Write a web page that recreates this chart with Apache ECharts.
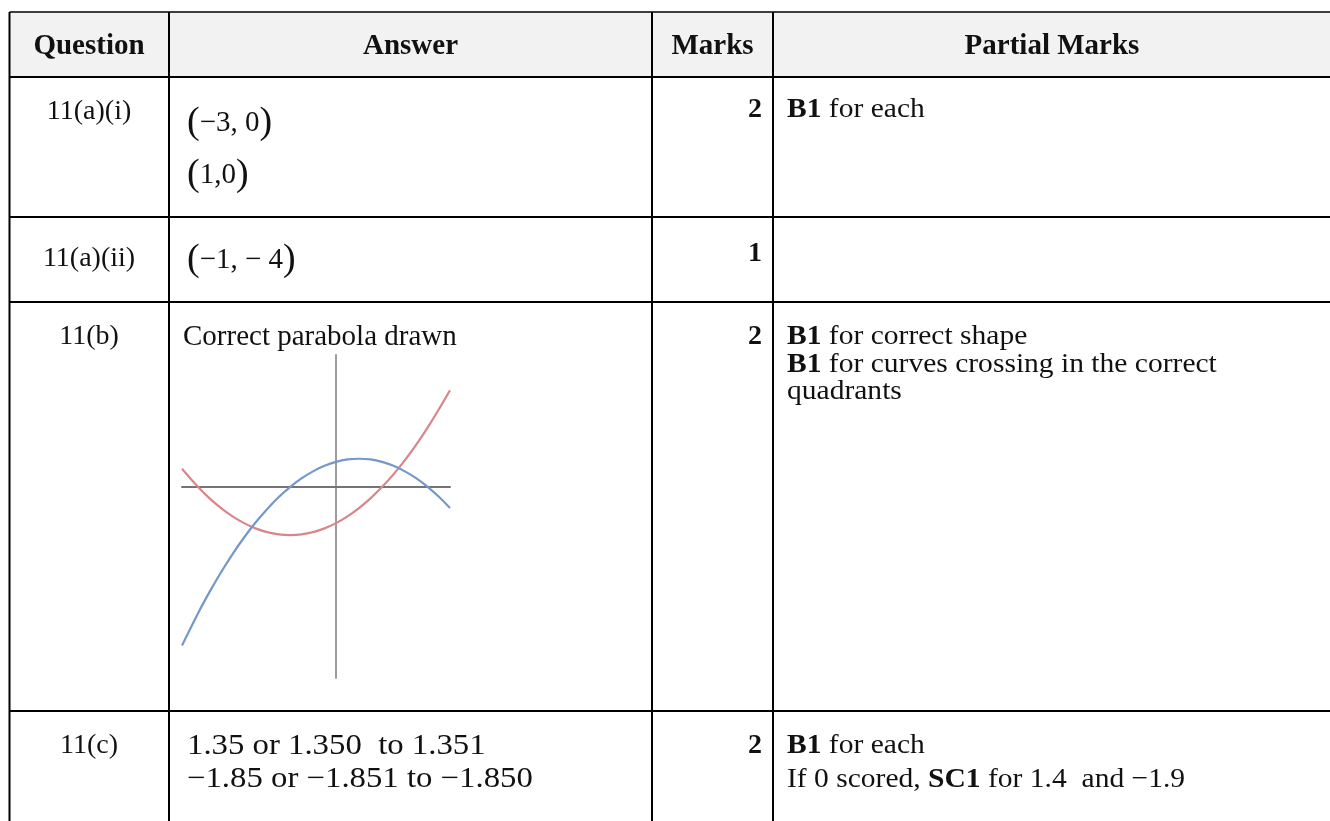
<!DOCTYPE html>
<html>
<head>
<meta charset="utf-8">
<script src="https://cdn.jsdelivr.net/npm/echarts@6/dist/echarts.min.js"></script>
<style>
html,body{margin:0;padding:0;background:#fff;}
#main{width:1330px;height:821px;}
</style>
</head>
<body>
<div id="main"></div>
<script>
// ---- data ----
var headers = ['Question', 'Answer', 'Marks', 'Partial Marks'];
var questions = ['11(a)(i)', '11(a)(ii)', '11(b)', '11(c)'];
var marks = ['2', '1', '2', '2'];
var answers11ai = ['−3, 0', '1,0'];
var answer11aii = '−1, − 4';
var answer11b = 'Correct parabola drawn';
var answers11c = ['1.35 or 1.350  to 1.351', '−1.85 or −1.851 to −1.850'];
var partial11ai = [['B1', ' for each']];
var partial11b = [['B1', ' for correct shape'], ['B1', ' for curves crossing in the correct'], ['', 'quadrants']];
var partial11c = [['B1', ' for each'], ['', 'If 0 scored, ', 'SC1', ' for 1.4  and −1.9']];

// sketch curves (x values and y values)
var curveX = [-3.35, -3, -2.75, -2.5, -2.25, -2, -1.75, -1.5, -1.25, -1, -0.75, -0.5, -0.25, 0, 0.25, 0.5, 0.75, 1, 1.25, 1.5, 1.75, 2, 2.25, 2.48];
var redY  = [1.52, 0, -0.94, -1.75, -2.44, -3, -3.44, -3.75, -3.94, -4, -3.94, -3.75, -3.44, -3, -2.44, -1.75, -0.94, 0, 1.06, 2.25, 3.56, 5, 6.56, 8.07];
var blueY = [-13.2, -10.5, -8.73, -7.09, -5.58, -4.2, -2.95, -1.84, -0.85, 0, 0.72, 1.31, 1.77, 2.1, 2.3, 2.36, 2.3, 2.1, 1.77, 1.31, 0.72, 0, -0.85, -1.75];

// ---- layout ----
var FONT = '"Liberation Serif", "Times New Roman", serif';
var colX = [9.5, 169, 652, 773, 1330];
var rowY = [12, 77, 217, 302, 711, 821];
var qCenter = 89, ansLeft = 187, marksRight = 762, partLeft = 787;

function txt(x, y, text, opt) {
  opt = opt || {};
  return {
    type: 'text', x: x, y: y, z: 10,
    scaleX: opt.sx || 1,
    style: {
      text: text,
      fontFamily: FONT,
      fontSize: opt.size || 28,
      fontWeight: opt.bold ? 'bold' : 'normal',
      fill: '#111',
      align: opt.align || 'left',
      verticalAlign: 'middle',
      rich: opt.rich
    }
  };
}
var richB = {
  b: { fontFamily: FONT, fontSize: 28, fontWeight: 'bold', fill: '#111', verticalAlign: 'middle' },
  n: { fontFamily: FONT, fontSize: 28, fill: '#111', verticalAlign: 'middle' }
};
function partLine(x, y, parts) {
  var s = '';
  for (var i = 0; i < parts.length; i++) {
    if (!parts[i]) continue;
    var bold = (parts.length === 2 && i === 0) || (parts.length === 4 && i === 2);
    s += '{' + (bold ? 'b' : 'n') + '|' + parts[i] + '}';
  }
  return txt(x, y, s, { rich: richB, sx: 1.055 });
}
var richP = {
  p: { fontFamily: FONT, fontSize: 38, fill: '#111', verticalAlign: 'middle' },
  m: { fontFamily: FONT, fontSize: 29, fill: '#111', verticalAlign: 'middle' }
};
function mathPair(x, y, inner) {
  return txt(x, y, '{p|(}{m|' + inner + '}{p|)}', { rich: richP });
}

var g = [];
// header background
g.push({ type: 'rect', z: 1, shape: { x: colX[0], y: rowY[0], width: 1330 - colX[0], height: rowY[1] - rowY[0] }, style: { fill: '#f2f2f2' } });
// horizontal lines
for (var i = 0; i < 5; i++) {
  g.push({ type: 'line', z: 5, shape: { x1: colX[0], y1: rowY[i], x2: 1330, y2: rowY[i] }, style: { stroke: '#000', lineWidth: i === 0 ? 1.5 : 2.2 } });
}
// vertical lines
for (var j = 0; j < 4; j++) {
  g.push({ type: 'line', z: 5, shape: { x1: colX[j], y1: rowY[0], x2: colX[j], y2: 821 }, style: { stroke: '#000', lineWidth: 2 } });
}
// headers
var hdrCx = [qCenter, (colX[1] + colX[2]) / 2, (colX[2] + colX[3]) / 2, 1052];
for (var k = 0; k < 4; k++) g.push(txt(hdrCx[k], 47, headers[k], { bold: true, size: 29, align: 'center' }));

// question column
var qY = [112, 259, 337, 746];
for (var q = 0; q < 4; q++) g.push(txt(qCenter, qY[q], questions[q], { align: 'center' }));
// marks column
var mY = [110, 254, 337, 746];
for (var m = 0; m < 4; m++) g.push(txt(marksRight, mY[m], marks[m], { bold: true, align: 'right' }));

// answers
g.push(mathPair(ansLeft, 123, answers11ai[0]));
g.push(mathPair(ansLeft, 175, answers11ai[1]));
g.push(mathPair(ansLeft, 260, answer11aii));
g.push(txt(183, 337, answer11b, { size: 29 }));
g.push(txt(ansLeft, 746, answers11c[0], { size: 29, sx: 1.13 }));
g.push(txt(ansLeft, 779, answers11c[1], { size: 29, sx: 1.13 }));

// partial marks
g.push(partLine(partLeft, 110, partial11ai[0]));
var pbY = [337, 365, 392];
for (var p = 0; p < 3; p++) g.push(partLine(partLeft, pbY[p], partial11b[p]));
g.push(partLine(partLeft, 746, partial11c[0]));
g.push(partLine(partLeft, 780, partial11c[1]));

function zip(xs, ys) { return xs.map(function (x, i) { return [x, ys[i]]; }); }

var chart = echarts.init(document.getElementById('main'), null, { renderer: 'canvas' });
chart.setOption({
  backgroundColor: '#fff',
  animation: false,
  grid: { left: 182, top: 355, width: 268, height: 323, containLabel: false },
  xAxis: {
    type: 'value', min: -3.35, max: 2.48,
    axisLine: { onZero: true, lineStyle: { color: '#747474', width: 2 } },
    axisTick: { show: false }, axisLabel: { show: false }, splitLine: { show: false }
  },
  yAxis: {
    type: 'value', min: -15.9, max: 11,
    axisLine: { onZero: true, lineStyle: { color: '#9c9c9c', width: 2 } },
    axisTick: { show: false }, axisLabel: { show: false }, splitLine: { show: false }
  },
  series: [
    { type: 'line', smooth: 0.4, showSymbol: false, data: zip(curveX, redY), lineStyle: { color: '#d9868b', width: 2.2 }, z: 3 },
    { type: 'line', smooth: 0.4, showSymbol: false, data: zip(curveX, blueY), lineStyle: { color: '#7398c9', width: 2.2 }, z: 3 }
  ],
  graphic: g
});
</script>
</body>
</html>
